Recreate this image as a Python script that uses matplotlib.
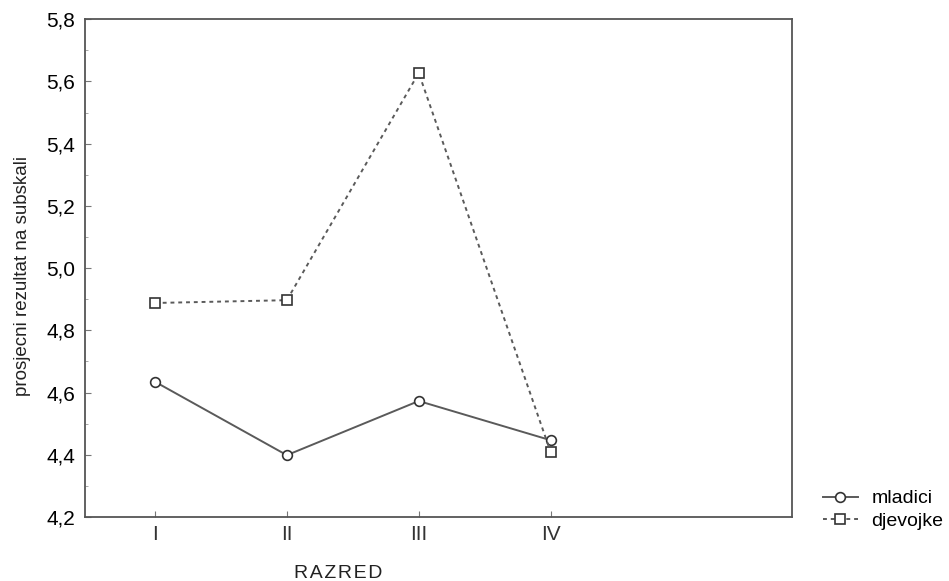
import numpy as np
import matplotlib
matplotlib.use('Agg')
import matplotlib.pyplot as plt
from matplotlib.ticker import FuncFormatter, MultipleLocator

plt.rcParams['font.family'] = ['Liberation Sans', 'DejaVu Sans']

razred   = ['I', 'II', 'III', 'IV']
mladici  = [4.635, 4.399, 4.573, 4.447]
djevojke = [4.888, 4.897, 5.627, 4.409]

x = np.arange(1, len(razred) + 1)
line_col = '#5a5a5a'

fig = plt.figure(figsize=(9.49, 5.81), dpi=100)
ax = fig.add_axes([0.0896, 0.110, 0.745, 0.857])

ax.plot(x, mladici, color=line_col, linewidth=1.4, linestyle='-',
        marker='o', markersize=7, markerfacecolor='white', markeredgecolor='#333333',
        markeredgewidth=1.2, label='mladici')
ax.plot(x, djevojke, color=line_col, linewidth=1.4, linestyle=(0, (2, 2)),
        marker='s', markersize=7, markerfacecolor='white', markeredgecolor='#333333',
        markeredgewidth=1.2, label='djevojke')

ax.set_xlim(0.47, 5.83)
ax.set_ylim(4.2, 5.8)
ax.set_xticks(x)
ax.set_xticklabels(razred, color='#333333')
ax.yaxis.set_major_locator(MultipleLocator(0.2))
ax.yaxis.set_minor_locator(MultipleLocator(0.1))
ax.yaxis.set_major_formatter(FuncFormatter(lambda v, p: f'{v:.1f}'.replace('.', ',')))
ax.tick_params(axis='both', direction='in', length=4, color='#777777', labelsize=15, pad=7)
ax.tick_params(axis='y', which='minor', direction='in', length=2, color='#999999')
ax.tick_params(axis='x', pad=6, labelsize=15)

for s in ax.spines.values():
    s.set_color('#555555')
    s.set_linewidth(1.3)

# letter-spaced axis title, hair spaces between letters
ax.set_xlabel('R\u200aA\u200aZ\u200aR\u200aE\u200aD', fontsize=14, color='#222222')
ax.xaxis.set_label_coords(0.358, -0.096)
ax.set_ylabel('prosjecni rezultat na subskali', fontsize=13.5, color='#222222')
ax.yaxis.set_label_coords(-0.077, 0.484)

ax.legend(loc='upper left', bbox_to_anchor=(0.867, 0.157), bbox_transform=fig.transFigure,
          frameon=False, fontsize=14, borderpad=0, borderaxespad=0,
          handlelength=1.8, handletextpad=0.7, labelspacing=0.25)

plt.savefig('out.png', dpi=100)
